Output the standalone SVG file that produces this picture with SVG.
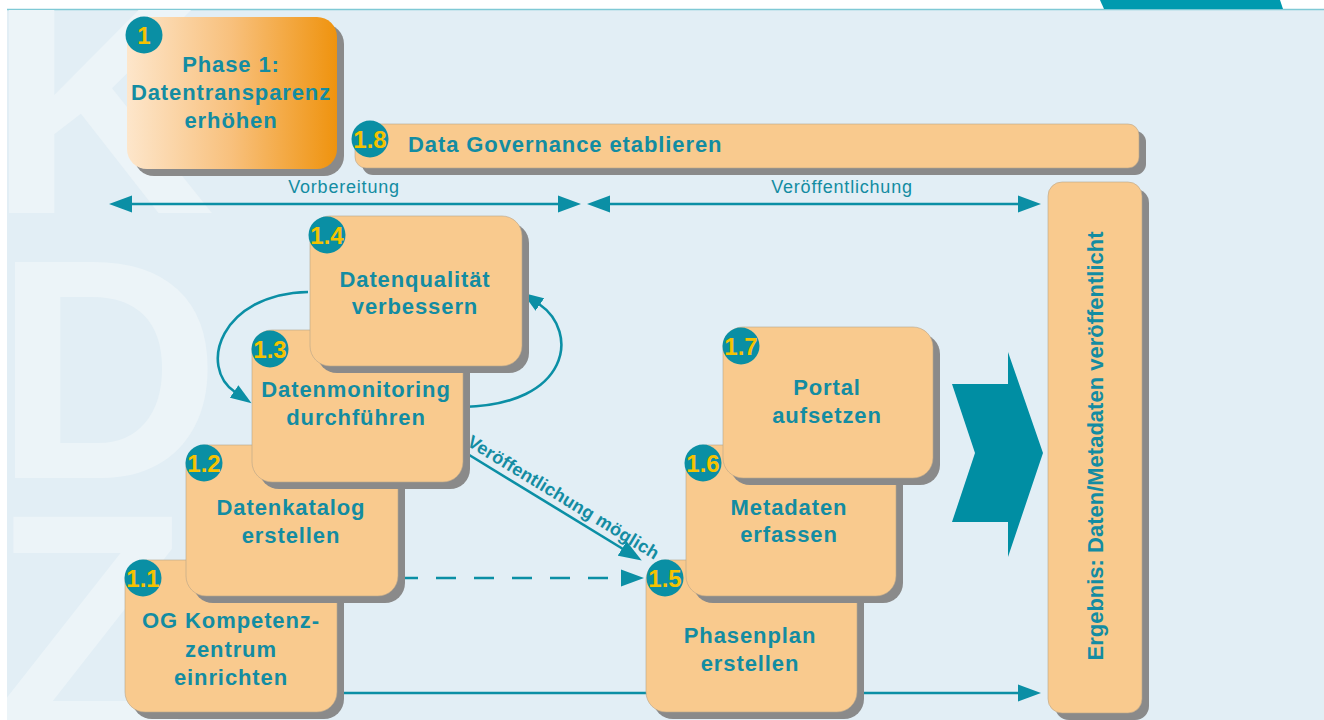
<svg xmlns="http://www.w3.org/2000/svg" width="1324" height="720" viewBox="0 0 1324 720">
<defs>
<linearGradient id="phaseGrad" x1="0" y1="0" x2="1" y2="0">
<stop offset="0" stop-color="#fde6cb"/>
<stop offset="0.5" stop-color="#f8c07c"/>
<stop offset="1" stop-color="#ef930e"/>
</linearGradient>
<clipPath id="bgClip"><rect x="7" y="10" width="1317" height="710"/></clipPath>
<marker id="ah" markerUnits="userSpaceOnUse" markerWidth="24" markerHeight="18" viewBox="0 -9 24 18" refX="1" refY="0" orient="auto-start-reverse">
<path d="M0,-8.5 L23,0 L0,8.5 z" fill="#0b8fa5"/>
</marker>
<marker id="ahs" markerUnits="userSpaceOnUse" markerWidth="22" markerHeight="16" viewBox="0 -8 22 16" refX="1" refY="0" orient="auto">
<path d="M0,-7.5 L21,0 L0,7.5 z" fill="#0b8fa5"/>
</marker>
<style>
.shadow{fill:#8a8a8a}
.box{fill:#f9ca8e;stroke:#b7a48a;stroke-width:0.6}
.badge{fill:#0a8fa4}
.btxt{font-family:"Liberation Sans",Arial,sans-serif;font-weight:bold;font-size:24px;fill:#f5c200;text-anchor:middle}
.t{font-family:"Liberation Sans",Arial,sans-serif;font-weight:bold;font-size:22px;fill:#138ca2;text-anchor:middle;letter-spacing:0.9px}
.lbl{font-family:"Liberation Sans",Arial,sans-serif;font-size:18px;fill:#138ca2;text-anchor:middle;letter-spacing:0.8px}
.conn{fill:none;stroke:#0b8fa5;stroke-width:2.6}
.wm{font-family:"Liberation Sans",Arial,sans-serif;font-weight:bold;fill:#ecf4f8}
</style>
</defs>

<!-- page background -->
<rect x="0" y="0" width="1324" height="720" fill="#ffffff"/>
<rect x="7" y="10" width="1317" height="710" fill="#e2eef5"/>
<line x1="7" y1="9.5" x2="1324" y2="9.5" stroke="#7fc9d5" stroke-width="1.5"/>
<polygon points="1100,0 1280,0 1283,9 1104,9" fill="#009aaf"/>

<!-- watermark -->
<g clip-path="url(#bgClip)">
<text class="wm" x="-12" y="213" font-size="314">K</text>
<text class="wm" x="-6" y="478" font-size="314">D</text>
<text class="wm" x="-8" y="737" font-size="320">Z</text>
</g>

<!-- connectors -->
<g id="connectors">
<path class="conn" d="M131,204 L559,204" marker-start="url(#ah)" marker-end="url(#ah)"/>
<path class="conn" d="M609,204 L1019,204" marker-start="url(#ah)" marker-end="url(#ah)"/>
<text class="lbl" x="344" y="193">Vorbereitung</text>
<text class="lbl" x="842" y="193">Veröffentlichung</text>
<path class="conn" stroke-width="3" d="M308,292 C220,294 198,367 235,392" marker-end="url(#ahs)"/>
<path class="conn" stroke-width="3" d="M463,407 C570,405 580,332 539,304" marker-end="url(#ahs)"/>
<path class="conn" stroke-width="3" d="M466,453 L623,549" marker-end="url(#ah)"/>
<text transform="translate(466,445) rotate(31.4)" font-family="Liberation Sans, Arial, sans-serif" font-weight="bold" font-size="18" fill="#138ca2" letter-spacing="0.2">Veröffentlichung möglich</text>
<path class="conn" stroke-width="3" stroke-dasharray="20 18" d="M398,578 L622,578" marker-end="url(#ah)"/>
<path class="conn" d="M337,693 L1019,693" marker-end="url(#ah)"/>
</g>

<!-- chevron -->
<polygon id="chevron" points="952,384 1008,384 1008,352 1043,453 1008,557 1008,522 952,522 975,453" fill="#008ea3"/>

<!-- Phase 1 -->
<g id="phase1">
<rect class="shadow" x="134" y="24" width="210" height="152" rx="20"/>
<rect x="127" y="17" width="210" height="152" rx="20" fill="url(#phaseGrad)"/>
<circle class="badge" cx="144" cy="35" r="18.5"/>
<text class="btxt" x="144" y="43.5">1</text>
<text class="t" x="231" y="72" font-size="23">Phase 1:</text>
<text class="t" x="231" y="100" font-size="23">Datentransparenz</text>
<text class="t" x="231" y="128" font-size="23">erhöhen</text>
</g>

<!-- 1.8 -->
<g id="n18">
<rect class="shadow" x="362" y="131" width="784" height="44" rx="11"/>
<rect class="box" x="355" y="124" width="784" height="44" rx="11"/>
<circle class="badge" cx="370" cy="139" r="18.5"/>
<text class="btxt" x="370" y="147.5">1.8</text>
<text class="t" x="408" y="152" style="text-anchor:start">Data Governance etablieren</text>
</g>

<!-- result -->
<g id="result">
<rect class="shadow" x="1055" y="189" width="94" height="531" rx="14"/>
<rect class="box" x="1048" y="182" width="94" height="531" rx="14"/>
<text class="t" transform="translate(1103,446) rotate(-90)" font-size="24" style="letter-spacing:0">Ergebnis: Daten/Metadaten veröffentlicht</text>
</g>

<!-- 1.1 -->
<g id="n11">
<rect class="shadow" x="132" y="567" width="212" height="152" rx="20"/>
<rect class="box" x="125" y="560" width="212" height="152" rx="20"/>
<circle class="badge" cx="143" cy="578" r="18.5"/>
<text class="btxt" x="143" y="586.5">1.1</text>
<text class="t" x="231" y="628">OG Kompetenz-</text>
<text class="t" x="231" y="657">zentrum</text>
<text class="t" x="231" y="685">einrichten</text>
</g>

<!-- 1.2 -->
<g id="n12">
<rect class="shadow" x="193" y="452" width="212" height="151" rx="20"/>
<rect class="box" x="186" y="445" width="212" height="151" rx="20"/>
<circle class="badge" cx="204" cy="463" r="18.5"/>
<text class="btxt" x="204" y="471.5">1.2</text>
<text class="t" x="291" y="515">Datenkatalog</text>
<text class="t" x="291" y="543">erstellen</text>
</g>

<!-- 1.3 -->
<g id="n13">
<rect class="shadow" x="259" y="337" width="211" height="152" rx="20"/>
<rect class="box" x="252" y="330" width="211" height="152" rx="20"/>
<circle class="badge" cx="270" cy="349" r="18.5"/>
<text class="btxt" x="270" y="357.5">1.3</text>
<text class="t" x="356" y="397">Datenmonitoring</text>
<text class="t" x="356" y="425">durchführen</text>
</g>

<!-- 1.4 -->
<g id="n14">
<rect class="shadow" x="317" y="223" width="212" height="150" rx="20"/>
<rect class="box" x="310" y="216" width="212" height="150" rx="20"/>
<circle class="badge" cx="327" cy="235" r="18.5"/>
<text class="btxt" x="327" y="243.5">1.4</text>
<text class="t" x="415" y="287">Datenqualität</text>
<text class="t" x="415" y="314">verbessern</text>
</g>

<!-- 1.5 -->
<g id="n15">
<rect class="shadow" x="653" y="567" width="211" height="152" rx="20"/>
<rect class="box" x="646" y="560" width="211" height="152" rx="20"/>
<circle class="badge" cx="665" cy="578" r="18.5"/>
<text class="btxt" x="665" y="586.5">1.5</text>
<text class="t" x="750" y="643">Phasenplan</text>
<text class="t" x="750" y="671">erstellen</text>
</g>

<!-- 1.6 -->
<g id="n16">
<rect class="shadow" x="693" y="452" width="210" height="151" rx="20"/>
<rect class="box" x="686" y="445" width="210" height="151" rx="20"/>
<circle class="badge" cx="703" cy="463" r="18.5"/>
<text class="btxt" x="703" y="471.5">1.6</text>
<text class="t" x="789" y="515">Metadaten</text>
<text class="t" x="789" y="542">erfassen</text>
</g>

<!-- 1.7 -->
<g id="n17">
<rect class="shadow" x="730" y="334" width="210" height="151" rx="20"/>
<rect class="box" x="723" y="327" width="210" height="151" rx="20"/>
<circle class="badge" cx="741" cy="346" r="18.5"/>
<text class="btxt" x="741" y="354.5">1.7</text>
<text class="t" x="827" y="395">Portal</text>
<text class="t" x="827" y="423">aufsetzen</text>
</g>
</svg>
